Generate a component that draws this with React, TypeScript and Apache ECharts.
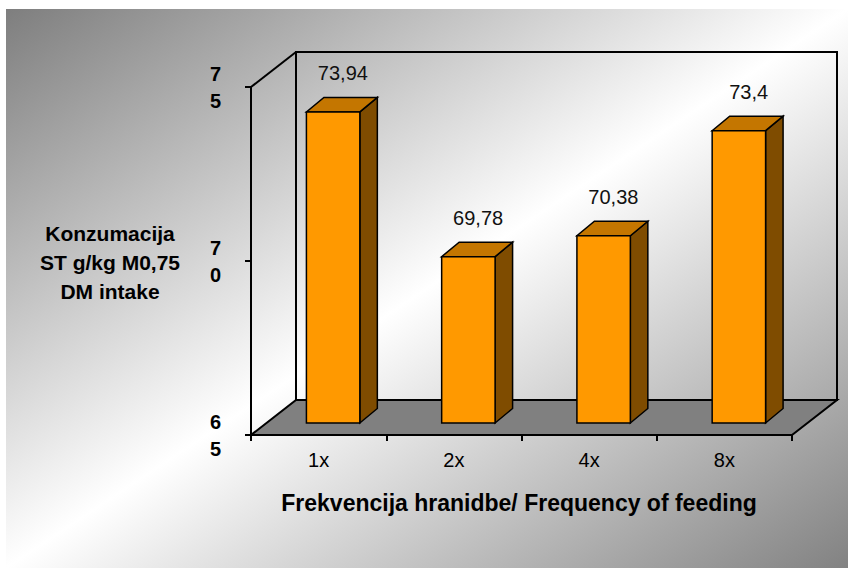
import React, { useEffect, useRef } from "react";
import * as echarts from "echarts";

const categories = ["1x", "2x", "4x", "8x"];
const values = [73.94, 69.78, 70.38, 73.4];
const yMin = 65;
const yMax = 75;
const yStep = 5;
const yTitle = "Konzumacija\nST g/kg M0,75\nDM intake";
const xTitle = "Frekvencija hranidbe/ Frequency of feeding";

const FONT = "'Liberation Sans', Arial, sans-serif";

export default function App() {
  const ref = useRef<HTMLDivElement>(null);
  useEffect(() => {
    document.body.style.margin = "0";
    const chart = echarts.init(ref.current!, null, { renderer: "svg" });
    const wallDx = 45;
    const wallDy = -35;
    const barDx = 17.5;
    const barDy = -14.5;
    const frontDx = 14.5;
    const frontDy = -12;

    chart.setOption({
      animation: false,
      backgroundColor: "#ffffff",
      grid: { left: 251, right: 56, top: 87, bottom: 133 },
      graphic: [
        {
          type: "rect",
          z: -10,
          shape: { x: 6, y: 9, width: 842, height: 559 },
          style: {
            fill: {
              type: "linear",
              x: 0,
              y: 0,
              x2: 1,
              y2: 1,
              colorStops: [
                { offset: 0, color: "#7e7e7e" },
                { offset: 0.5, color: "#ffffff" },
                { offset: 1, color: "#828282" },
              ],
            },
          },
        },
        {
          type: "text",
          x: 110,
          y: 262,
          style: {
            text: yTitle,
            fill: "#000",
            font: `bold 21px ${FONT}`,
            align: "center",
            verticalAlign: "middle",
            lineHeight: 29,
          },
        },
        {
          type: "text",
          x: 519,
          y: 503,
          style: {
            text: xTitle,
            fill: "#000",
            font: `bold 23px ${FONT}`,
            align: "center",
            verticalAlign: "middle",
          },
        },
      ],
      xAxis: {
        type: "category",
        data: categories,
        axisLine: { show: true, lineStyle: { color: "#000", width: 2 } },
        axisTick: { show: true, length: 6, lineStyle: { color: "#000", width: 2 } },
        axisLabel: { fontSize: 20, color: "#000", margin: 15, fontFamily: FONT },
        splitLine: { show: false },
      },
      yAxis: {
        type: "value",
        min: yMin,
        max: yMax,
        interval: yStep,
        axisLine: { show: true, lineStyle: { color: "#000", width: 2 } },
        axisTick: { show: true, length: 6, lineStyle: { color: "#000", width: 2 } },
        splitLine: { show: false },
        axisLabel: {
          formatter: (v: number) => String(v).split("").join("\n"),
          fontWeight: "bold",
          fontSize: 20,
          lineHeight: 27,
          color: "#000",
          margin: 30,
          fontFamily: FONT,
        },
      },
      series: [
        {
          type: "custom",
          z: 1,
          silent: true,
          data: [[0, yMin]],
          renderItem: (params: any) => {
            const cs = params.coordSys;
            const x = cs.x;
            const y = cs.y;
            const w = cs.width;
            const h = cs.height;
            return {
              type: "group",
              children: [
                {
                  type: "polygon",
                  shape: {
                    points: [
                      [x, y + h],
                      [x + w, y + h],
                      [x + w + wallDx, y + h + wallDy],
                      [x + wallDx, y + h + wallDy],
                    ],
                  },
                  style: { fill: "#808080", stroke: "#000", lineWidth: 2 },
                },
                {
                  type: "polygon",
                  shape: {
                    points: [
                      [x + wallDx, y + wallDy],
                      [x + w + wallDx, y + wallDy],
                      [x + w + wallDx, y + h + wallDy],
                      [x + wallDx, y + h + wallDy],
                    ],
                  },
                  style: { fill: "none", stroke: "#000", lineWidth: 2 },
                },
                {
                  type: "line",
                  shape: { x1: x, y1: y, x2: x + wallDx, y2: y + wallDy },
                  style: { stroke: "#000", lineWidth: 2 },
                },
              ],
            };
          },
        },
        {
          type: "custom",
          z: 3,
          data: values.map((v, i) => [i, v]),
          renderItem: (params: any, api: any) => {
            const i = api.value(0);
            const v = api.value(1);
            const base = api.coord([i, yMin]);
            const top = api.coord([i, v]);
            const bw = api.size([1, 0])[0] * 0.395;
            const cx = base[0] + frontDx;
            const yb = base[1] + frontDy;
            const yt = top[1] + frontDy;
            const x0 = cx - bw / 2;
            const x1 = cx + bw / 2;
            const label = String(v).replace(".", ",");
            return {
              type: "group",
              children: [
                {
                  type: "polygon",
                  shape: {
                    points: [
                      [x1, yt],
                      [x1 + barDx, yt + barDy],
                      [x1 + barDx, yb + barDy],
                      [x1, yb],
                    ],
                  },
                  style: { fill: "#7f4c00", stroke: "#000", lineWidth: 1.5 },
                },
                {
                  type: "polygon",
                  shape: {
                    points: [
                      [x0, yt],
                      [x1, yt],
                      [x1 + barDx, yt + barDy],
                      [x0 + barDx, yt + barDy],
                    ],
                  },
                  style: { fill: "#c47600", stroke: "#000", lineWidth: 1.5 },
                },
                {
                  type: "rect",
                  shape: { x: x0, y: yt, width: bw, height: yb - yt },
                  style: { fill: "#ff9900", stroke: "#000", lineWidth: 1.5 },
                },
                {
                  type: "text",
                  x: cx + barDx / 2 + 1,
                  y: yt - 39,
                  style: {
                    text: label,
                    fill: "#111",
                    font: `20px ${FONT}`,
                    align: "center",
                    verticalAlign: "middle",
                  },
                },
              ],
            };
          },
        },
      ],
    });
    return () => chart.dispose();
  }, []);
  return <div ref={ref} style={{ width: 848, height: 568 }} />;
}
